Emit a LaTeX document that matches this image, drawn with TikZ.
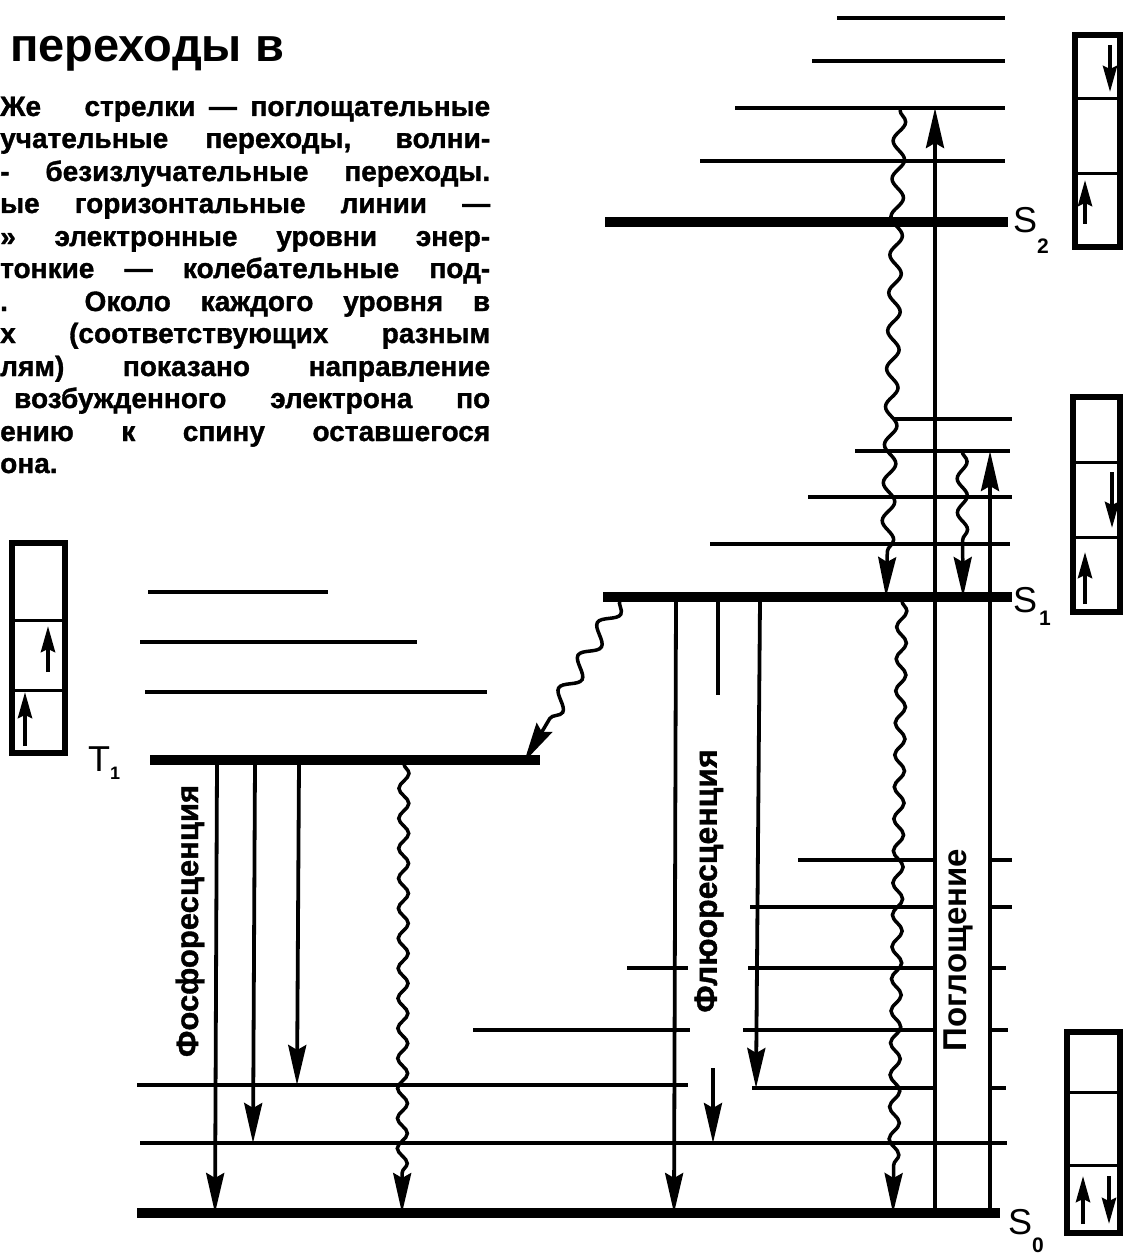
\documentclass[tikz,border=0pt]{standalone}
\usepackage{fontspec}
\setmainfont{Liberation Sans}
\newfontfamily\capfont{Liberation Sans Bold}[FakeBold=1.2]
\usetikzlibrary{arrows.meta,decorations.pathmorphing}
\begin{document}
\begin{tikzpicture}[x=1pt,y=-1pt,
 thinlev/.style={line width=4.5pt},
 thicklev/.style={line width=10pt},
 trans/.style={line width=3.8pt,-{Stealth[length=40pt,width=18pt,inset=5pt]}},
 wavy/.style={line width=3.5pt,decorate,decoration={snake,amplitude=5pt,segment length=32pt,post length=40pt},-{Stealth[length=40pt,width=18pt,inset=5pt]}},
 spin/.style={line width=4pt,-{Stealth[length=26pt,width=14pt,inset=3pt]}},
 boxout/.style={line width=5.5pt},
 boxdiv/.style={line width=3pt},
 txt/.style={inner sep=0pt,anchor=base west,font=\capfont\fontsize{28}{28}\selectfont},
 lvl/.style={inner sep=0pt,anchor=base west,font=\fontsize{36}{36}\selectfont},
 sublab/.style={inner sep=0pt,anchor=base west,font=\bfseries\fontsize{21}{21}\selectfont},
 vlab/.style={inner sep=0pt,rotate=90}]

\useasboundingbox[fill=white] (0,0) rectangle (1124,1257);

% ---------- caption text ----------
\node[inner sep=0pt,anchor=base west,font=\bfseries\fontsize{47}{47}\selectfont] (title) at (10,62) {переходы в};
\node[txt] (l1) at (0,116) {\makebox[490pt][s]{Же\hspace{30pt} стрелки — поглощательные}};
\node[txt] (l2) at (0,148) {\makebox[490pt][s]{учательные переходы, волни-}};
\node[txt] (l3) at (0,181) {\makebox[490pt][s]{- безизлучательные переходы.}};
\node[txt] (l4) at (0,213) {\makebox[490pt][s]{ые горизонтальные линии —}};
\node[txt] (l5) at (0,246) {\makebox[490pt][s]{» электронные уровни энер-}};
\node[txt] (l6) at (0,278) {\makebox[490pt][s]{тонкие — колебательные под-}};
\node[txt] (l7) at (0,311) {\makebox[490pt][s]{. Около каждого уровня в}};
\node[txt] (l8) at (0,343) {\makebox[490pt][s]{х (соответствующих разным}};
\node[txt] (l9) at (0,376) {\makebox[490pt][s]{лям) показано направление}};
\node[txt] (l10) at (14,408) {\makebox[476pt][s]{возбужденного электрона по}};
\node[txt] (l11) at (0,441) {\makebox[490pt][s]{ению к спину оставшегося}};
\node[txt] (l12) at (0,473) {она.};

% ---------- S2 levels ----------
\draw[thinlev] (837,18) -- (1005,18);
\draw[thinlev] (812,61) -- (1005,61);
\draw[thinlev] (735,108) -- (1005,108);
\draw[thinlev] (700,161) -- (1005,161);
\draw[thicklev] (605,222) -- (1008,222);

% ---------- S1 levels ----------
\draw[thinlev] (893,419) -- (1012,419);
\draw[thinlev] (855,451) -- (1010,451);
\draw[thinlev] (808,497) -- (1012,497);
\draw[thinlev] (710,544) -- (1010,544);
\draw[thicklev] (603,597) -- (1012,597);

% ---------- T1 levels ----------
\draw[thinlev] (148,592) -- (328,592);
\draw[thinlev] (140,642) -- (417,642);
\draw[thinlev] (145,692) -- (487,692);
\draw[thicklev] (150,760) -- (540,760);

% ---------- S0 levels ----------
\draw[thinlev] (798,860) -- (935,860);
\draw[thinlev] (990,860) -- (1012,860);
\draw[thinlev] (750,907) -- (935,907);
\draw[thinlev] (990,907) -- (1012,907);
\draw[thinlev] (627,968) -- (688,968);
\draw[thinlev] (748,968) -- (935,968);
\draw[thinlev] (990,968) -- (1006,968);
\draw[thinlev] (473,1030) -- (690,1030);
\draw[thinlev] (743,1030) -- (935,1030);
\draw[thinlev] (990,1030) -- (1008,1030);
\draw[thinlev] (137,1085) -- (688,1085);
\draw[thinlev] (752,1088) -- (935,1088);
\draw[thinlev] (990,1088) -- (1006,1088);
\draw[thinlev] (140,1143) -- (1007,1143);
\draw[thicklev] (137,1213) -- (1000,1213);

% ---------- absorption ----------
\draw[trans] (935,1213) -- (935,108);
\draw[trans] (990,1213) -- (990,451);

% ---------- non-radiative (wavy) ----------
\draw[wavy,decoration={segment length=38pt,amplitude=6pt}] (900,110) -- (886,597);
\draw[wavy,decoration={segment length=34pt}] (962,451) -- (963,597);
\draw[wavy] (902,601) -- (893,1213);
\draw[wavy,decoration={segment length=30pt}] (404,764) -- (402,1213);
\draw[wavy,decoration={amplitude=8pt,segment length=38pt}] (620,600) -- (524,762);

% ---------- fluorescence ----------
\draw[trans] (676,600) -- (674,1213);
\draw[line width=3.8pt] (718,600) -- (718,695);
\draw[trans] (713,1068) -- (713,1143);
\draw[trans] (760,600) -- (756,1088);

% ---------- phosphorescence ----------
\draw[trans] (217,763) -- (215,1213);
\draw[trans] (255,763) -- (253,1143);
\draw[trans] (299,763) -- (297,1085);

% ---------- rotated labels ----------
\node[vlab,font=\capfont\fontsize{31}{31}\selectfont] (phos) at (190,921) {Фосфоресценция};
\node[vlab,font=\capfont\fontsize{32}{32}\selectfont] (fluo) at (709,881) {Флюоресценция};
\node[vlab,font=\bfseries\fontsize{33}{33}\selectfont] (abs) at (958,950) {Поглощение};

% ---------- level labels ----------
\node[lvl] (S2) at (1013,233) {S};
\node[sublab] (S2i) at (1037,254) {2};
\node[lvl] (S1) at (1013,612) {S};
\node[sublab] (S1i) at (1039,625) {1};
\node[lvl] (S0) at (1008,1234) {S};
\node[sublab] (S0i) at (1032,1252) {0};
\node[lvl] (T1) at (88,771) {T};
\node[inner sep=0pt,anchor=base west,font=\bfseries\fontsize{18}{18}\selectfont] (T1i) at (110,779) {1};

% ---------- spin boxes ----------
% S2
\draw[boxout] (1075,35) rectangle (1120,247);
\draw[boxdiv] (1075,99) -- (1120,99);
\draw[boxdiv] (1075,174) -- (1120,174);
\draw[spin] (1110,45) -- (1110,92);
\draw[spin] (1085,224) -- (1085,180);
% S1
\draw[boxout] (1073,397) rectangle (1120,612);
\draw[boxdiv] (1073,462) -- (1120,462);
\draw[boxdiv] (1073,537) -- (1120,537);
\draw[spin] (1112,472) -- (1112,528);
\draw[spin] (1085,604) -- (1085,552);
% S0
\draw[boxout] (1067,1032) rectangle (1120,1233);
\draw[boxdiv] (1067,1092) -- (1120,1092);
\draw[boxdiv] (1067,1165) -- (1120,1165);
\draw[spin] (1083,1224) -- (1083,1176);
\draw[spin] (1109,1176) -- (1109,1224);
% T1
\draw[boxout] (12,543) rectangle (65,753);
\draw[boxdiv] (12,620) -- (65,620);
\draw[boxdiv] (12,690) -- (65,690);
\draw[spin] (48,672) -- (48,626);
\draw[spin] (25,746) -- (25,692);
\end{tikzpicture}
\end{document}
